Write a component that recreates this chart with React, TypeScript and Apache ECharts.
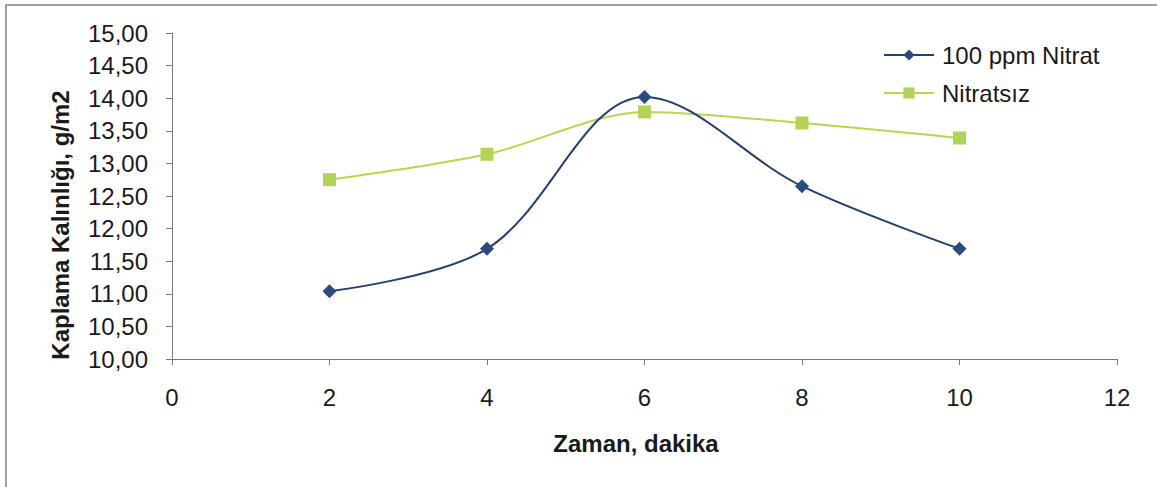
import React, { useEffect, useRef } from "react";
import * as echarts from "echarts";

const times = [2, 4, 6, 8, 10];
const nitrat100 = [11.04, 11.69, 14.02, 12.65, 11.69];
const nitratsiz = [12.75, 13.14, 13.79, 13.62, 13.39];
const seriesNames = ["100 ppm Nitrat", "Nitratsız"];
const xTitle = "Zaman, dakika";
const yTitle = "Kaplama Kalınlığı, g/m2";

const FONT = "'Liberation Sans', Arial, sans-serif";
const INK = "#1a1a1a";

export default function App() {
  const ref = useRef<HTMLDivElement>(null);

  useEffect(() => {
    document.body.style.margin = "0";
    const chart = echarts.init(ref.current!, null, { renderer: "svg" });
    chart.setOption({
      animation: false,
      backgroundColor: "#ffffff",
      textStyle: { fontFamily: FONT },
      graphic: [
        {
          type: "polyline",
          shape: { points: [[6, 490], [6, 5], [1160, 5]] },
          style: { stroke: "#a0a0a0", lineWidth: 2, fill: "none" },
          silent: true,
        },
        {
          type: "text",
          x: 636,
          y: 443,
          style: {
            text: xTitle,
            font: `bold 24px ${FONT}`,
            fill: INK,
            align: "center",
            verticalAlign: "middle",
          },
        },
        {
          type: "text",
          x: 60,
          y: 225,
          rotation: Math.PI / 2,
          style: {
            text: yTitle,
            font: `bold 24px ${FONT}`,
            fill: INK,
            align: "center",
            verticalAlign: "middle",
          },
        },
      ],
      grid: { left: 172, right: 40, top: 33, bottom: 128 },
      legend: {
        orient: "vertical",
        left: 878,
        top: 38,
        itemWidth: 50,
        itemHeight: 14,
        itemGap: 14,
        textStyle: { fontSize: 24, color: INK, fontFamily: FONT, padding: [0, 0, 0, 3] },
        data: seriesNames,
      },
      xAxis: {
        type: "value",
        min: 0,
        max: 12,
        interval: 2,
        axisLine: { lineStyle: { color: "#7a7a7a", width: 1 } },
        axisTick: { show: true, length: 6, lineStyle: { color: "#7a7a7a" } },
        axisLabel: { fontSize: 24, color: INK, margin: 26, fontFamily: FONT },
        splitLine: { show: false },
      },
      yAxis: {
        type: "value",
        min: 10,
        max: 15,
        interval: 0.5,
        axisLine: { show: true, lineStyle: { color: "#7a7a7a", width: 1 } },
        axisTick: { show: true, length: 6, lineStyle: { color: "#7a7a7a" } },
        axisLabel: {
          fontSize: 24,
          color: INK,
          margin: 24,
          fontFamily: FONT,
          formatter: (v: number) => v.toFixed(2).replace(".", ","),
        },
        splitLine: { show: false },
      },
      series: [
        {
          name: seriesNames[0],
          type: "line",
          data: times.map((t, i) => [t, nitrat100[i]]),
          smooth: 0.35,
          symbol: "diamond",
          symbolSize: 14,
          lineStyle: { color: "#233f73", width: 2 },
          itemStyle: { color: "#2a4a80" },
          z: 3,
        },
        {
          name: seriesNames[1],
          type: "line",
          data: times.map((t, i) => [t, nitratsiz[i]]),
          smooth: 0.3,
          symbol: "rect",
          symbolSize: 13,
          lineStyle: { color: "#b8d64e", width: 2 },
          itemStyle: { color: "#b2d358" },
          z: 2,
        },
      ],
    });
    return () => chart.dispose();
  }, []);

  return (
    <div
      ref={ref}
      style={{ position: "fixed", left: 0, top: 0, width: 1157, height: 487 }}
    />
  );
}
